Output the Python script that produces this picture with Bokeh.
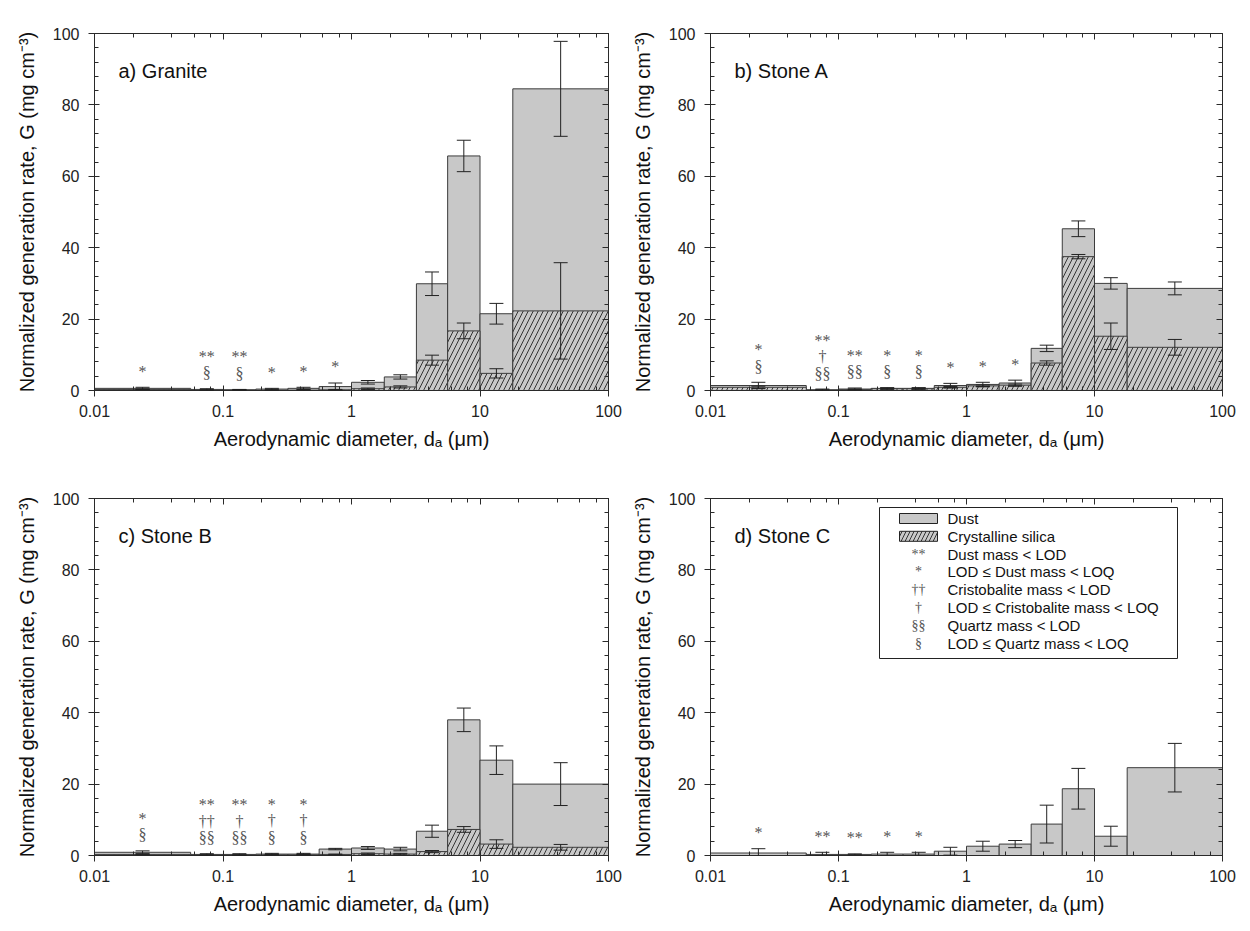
import math
from bokeh.plotting import figure
from bokeh.layouts import column, row
from bokeh.models import (Range1d, LinearAxis, LogAxis, SingleIntervalTicker, LogTicker,
                          CustomJSTickFormatter, ColumnDataSource, Whisker, TeeHead, Label,
                          BoxAnnotation)
from bokeh.core.properties import value
from bokeh.embed import file_html
from bokeh.resources import INLINE

# ---------------- data ----------------
bin_edges = [0.01, 0.056, 0.1, 0.18, 0.32, 0.56, 1.0, 1.8, 3.2, 5.6, 10.0, 18.0, 100.0]

granite_dust = [0.6, 0.3, 0.2, 0.4, 0.6, 1.1, 2.3, 3.8, 29.9, 65.7, 21.5, 84.5]
granite_dust_err = [0.3, 0.2, 0.1, 0.2, 0.3, 1.0, 0.5, 0.6, 3.3, 4.4, 2.9, 13.3]
granite_silica = [0.3, 0.1, 0.1, 0.1, 0.1, 0.2, 0.5, 1.0, 8.5, 16.7, 4.8, 22.3]
granite_silica_err = [0.1, 0.05, 0.05, 0.05, 0.1, 0.1, 0.2, 0.3, 1.4, 2.2, 1.3, 13.5]
granite_dust_flag = ["*", "**", "**", "*", "*", "*", "", "", "", "", "", ""]
granite_crist_flag = [""] * 12
granite_quartz_flag = ["", "§", "§", "", "", "", "", "", "", "", "", ""]

stoneA_dust = [1.4, 0.2, 0.4, 0.6, 0.6, 1.4, 1.7, 2.1, 11.8, 45.3, 30.0, 28.6]
stoneA_dust_err = [0.9, 0.2, 0.3, 0.2, 0.2, 0.6, 0.6, 0.8, 0.9, 2.2, 1.6, 1.8]
stoneA_silica = [0.9, 0.1, 0.3, 0.5, 0.5, 0.9, 1.3, 1.5, 7.7, 37.5, 15.2, 12.1]
stoneA_silica_err = [0.3, 0.05, 0.1, 0.15, 0.15, 0.2, 0.25, 0.3, 0.6, 0.6, 3.7, 2.2]
stoneA_dust_flag = ["*", "**", "**", "*", "*", "*", "*", "*", "", "", "", ""]
stoneA_crist_flag = ["", "†", "", "", "", "", "", "", "", "", "", ""]
stoneA_quartz_flag = ["§", "§§", "§§", "§", "§", "", "", "", "", "", "", ""]

stoneB_dust = [0.9, 0.3, 0.3, 0.4, 0.4, 1.8, 2.1, 1.8, 6.8, 38.0, 26.7, 20.0]
stoneB_dust_err = [0.4, 0.2, 0.2, 0.2, 0.2, 0.2, 0.4, 0.5, 1.7, 3.3, 4.0, 6.0]
stoneB_silica = [0.3, 0.1, 0.1, 0.2, 0.2, 0.3, 0.5, 0.4, 1.1, 7.3, 3.2, 2.3]
stoneB_silica_err = [0.1, 0.05, 0.05, 0.1, 0.1, 0.1, 0.2, 0.2, 0.3, 0.8, 1.2, 0.8]
stoneB_dust_flag = ["*", "**", "**", "*", "*", "", "", "", "", "", "", ""]
stoneB_crist_flag = ["", "††", "†", "†", "†", "", "", "", "", "", "", ""]
stoneB_quartz_flag = ["§", "§§", "§§", "§", "§", "", "", "", "", "", "", ""]

stoneC_dust = [0.7, 0.3, 0.3, 0.4, 0.4, 1.2, 2.6, 3.2, 8.8, 18.7, 5.4, 24.6]
stoneC_dust_err = [1.2, 0.6, 0.15, 0.5, 0.5, 1.1, 1.4, 1.0, 5.3, 5.7, 2.8, 6.8]
stoneC_dust_flag = ["*", "**", "**", "*", "*", "", "", "", "", "", "", ""]

panel_titles = ["a) Granite", "b) Stone A", "c) Stone B", "d) Stone C"]

legend_labels = ["Dust", "Crystalline silica", "Dust mass < LOD", "LOD ≤ Dust mass < LOQ",
                 "Cristobalite mass < LOD", "LOD ≤ Cristobalite mass < LOQ",
                 "Quartz mass < LOD", "LOD ≤ Quartz mass < LOQ"]
legend_symbols = ["", "", "**", "*", "††", "†", "§§", "§"]

x_label = "Aerodynamic diameter, dₐ (μm)"
y_label = "Normalized generation rate, G (mg cm⁻³)"

# ---------------- style ----------------
FONT = "Liberation Sans"
SYM_FONT = "Liberation Serif"
AX = "#2a2a2a"
BAR_FILL = "#c8c8c8"
BAR_LINE = "#3c3c3c"
SYM_COLOR = "#555555"
FRAME_W = 514
FRAME_H = 357

lefts = bin_edges[:-1]
rights = bin_edges[1:]
mids = [math.sqrt(a * b) for a, b in zip(lefts, rights)]


def make_panel(width, height, bl, br, bt, bb):
    p = figure(width=width, height=height, x_axis_type="log",
               x_range=Range1d(0.01, 100), y_range=Range1d(0, 100),
               output_backend="svg", toolbar_location=None,
               min_border_left=bl, min_border_right=br,
               min_border_top=bt, min_border_bottom=bb,
               x_axis_label=x_label, y_axis_label=y_label)
    p.grid.visible = False
    p.outline_line_color = None
    p.background_fill_color = "white"
    p.border_fill_color = "white"
    bottom_ax = p.below[0]
    left_ax = p.left[0]
    xt = LogTicker()
    yt = SingleIntervalTicker(interval=20, num_minor_ticks=5)
    bottom_ax.ticker = xt
    left_ax.ticker = yt
    bottom_ax.formatter = CustomJSTickFormatter(
        code="return parseFloat(tick.toPrecision(6)).toString();")
    for ax in [bottom_ax, left_ax]:
        ax.axis_line_color = AX
        ax.major_tick_line_color = AX
        ax.minor_tick_line_color = AX
        ax.major_tick_in = 5
        ax.major_tick_out = 6
        ax.minor_tick_in = 4
        ax.minor_tick_out = 0
        ax.major_label_text_font = FONT
        ax.major_label_text_font_size = "16px"
        ax.major_label_text_color = "#222222"
        ax.axis_label_text_font = FONT
        ax.axis_label_text_font_size = "20px"
        ax.axis_label_text_font_style = "normal"
        ax.axis_label_text_color = "#111111"
    bottom_ax.major_label_standoff = 8
    bottom_ax.axis_label_standoff = 8
    left_ax.major_label_standoff = 9
    left_ax.axis_label_standoff = 12
    top = LogAxis(ticker=xt, formatter=CustomJSTickFormatter(code="return '';"))
    right = LinearAxis(ticker=yt, formatter=CustomJSTickFormatter(code="return '';"))
    for ax in [top, right]:
        ax.axis_line_color = AX
        ax.major_tick_line_color = AX
        ax.minor_tick_line_color = AX
        ax.major_tick_in = 6
        ax.major_tick_out = 0
        ax.minor_tick_in = 4
        ax.minor_tick_out = 0
        ax.major_label_standoff = 0
        ax.major_label_text_font_size = "1px"
    p.add_layout(top, "above")
    p.add_layout(right, "right")
    return p


def add_bars(p, dust, dust_err, silica=None, silica_err=None):
    p.quad(left=lefts, right=rights, bottom=0, top=dust,
           fill_color=BAR_FILL, line_color=BAR_LINE, line_width=1)
    if silica is not None:
        p.quad(left=lefts, right=rights, bottom=0, top=silica,
               fill_color=BAR_FILL, line_color=BAR_LINE, line_width=1,
               hatch_pattern="/", hatch_color="#333333", hatch_scale=10, hatch_weight=1)
    series = [(dust, dust_err)]
    if silica is not None:
        series.append((silica, silica_err))
    for vals, errs in series:
        src = ColumnDataSource(dict(
            x=mids,
            up=[v + e for v, e in zip(vals, errs)],
            lo=[max(v - e, 0) for v, e in zip(vals, errs)]))
        w = Whisker(source=src, base="x", upper="up", lower="lo",
                    line_color="#222222", line_width=1, level="overlay",
                    upper_head=TeeHead(size=14, line_color="#222222", line_width=1),
                    lower_head=TeeHead(size=14, line_color="#222222", line_width=1))
        p.add_layout(w)


def add_flags(p, dust, dust_err, flag_lists):
    xs, ys, ts = [], [], []
    for i in range(len(mids)):
        stack = [f[i] for f in flag_lists if f[i]]
        base = dust[i] + dust_err[i] + 4.5
        for k, s in enumerate(stack):
            xs.append(mids[i])
            ys.append(base + 4.6 * k)
            ts.append(s)
    src = ColumnDataSource(dict(x=xs, y=ys, text=ts))
    p.text(x="x", y="y", text="text", source=src, text_font=value(SYM_FONT),
           text_font_size="16px", text_color=SYM_COLOR, text_align="center",
           text_baseline="middle")


def add_title(p, t):
    p.add_layout(Label(x=24, y=FRAME_H - 37, x_units="screen", y_units="screen", text=t,
                       text_font=FONT, text_font_size="20px", text_color="#111111",
                       text_baseline="middle", text_align="left"))


pa = make_panel(628, 465, 94, 20, 33, 75)
pb = make_panel(614, 465, 80, 20, 33, 75)
pc = make_panel(628, 458, 94, 20, 33, 68)
pd = make_panel(614, 458, 80, 20, 33, 68)

add_bars(pa, granite_dust, granite_dust_err, granite_silica, granite_silica_err)
add_flags(pa, granite_dust, granite_dust_err,
          [granite_quartz_flag, granite_crist_flag, granite_dust_flag])
add_bars(pb, stoneA_dust, stoneA_dust_err, stoneA_silica, stoneA_silica_err)
add_flags(pb, stoneA_dust, stoneA_dust_err,
          [stoneA_quartz_flag, stoneA_crist_flag, stoneA_dust_flag])
add_bars(pc, stoneB_dust, stoneB_dust_err, stoneB_silica, stoneB_silica_err)
add_flags(pc, stoneB_dust, stoneB_dust_err,
          [stoneB_quartz_flag, stoneB_crist_flag, stoneB_dust_flag])
add_bars(pd, stoneC_dust, stoneC_dust_err)
add_flags(pd, stoneC_dust, stoneC_dust_err, [stoneC_dust_flag])

for p, t in zip([pa, pb, pc, pd], panel_titles):
    add_title(p, t)

# ---------------- legend (panel d) ----------------
LEG_L, LEG_R, LEG_T, LEG_B = 169, 467, 348, 197
pd.add_layout(BoxAnnotation(left=LEG_L, right=LEG_R, top=LEG_T, bottom=LEG_B,
                            left_units="screen", right_units="screen",
                            top_units="screen", bottom_units="screen",
                            fill_color="white", fill_alpha=1.0, line_color="#222222",
                            line_alpha=1.0, line_width=1, line_dash="solid", level="overlay"))
row0 = LEG_T - 11
pitch = 17.8
sw_l, sw_r = 189, 227
pd.add_layout(BoxAnnotation(left=sw_l, right=sw_r, top=row0 + 5, bottom=row0 - 5,
                            left_units="screen", right_units="screen",
                            top_units="screen", bottom_units="screen",
                            fill_color=BAR_FILL, fill_alpha=1.0, line_color="#222222",
                            line_alpha=1.0, line_width=1, line_dash="solid", level="overlay"))
pd.add_layout(BoxAnnotation(left=sw_l, right=sw_r, top=row0 - pitch + 5, bottom=row0 - pitch - 5,
                            left_units="screen", right_units="screen",
                            top_units="screen", bottom_units="screen",
                            fill_color=BAR_FILL, fill_alpha=1.0, line_color="#222222",
                            line_alpha=1.0, line_width=1, line_dash="solid",
                            hatch_pattern="/", hatch_color="#333333", hatch_scale=8,
                            hatch_weight=1, level="overlay"))
for k, (lab, sym) in enumerate(zip(legend_labels, legend_symbols)):
    yk = row0 - pitch * k
    pd.add_layout(Label(x=237, y=yk, x_units="screen", y_units="screen", text=lab,
                        text_font=FONT, text_font_size="15px", text_color="#111111",
                        text_baseline="middle", text_align="left", level="overlay"))
    if sym:
        pd.add_layout(Label(x=(sw_l + sw_r) / 2, y=yk, x_units="screen", y_units="screen",
                            text=sym, text_font=SYM_FONT, text_font_size="14px",
                            text_color=SYM_COLOR, text_baseline="middle", text_align="center",
                            level="overlay"))

layout = column(row(pa, pb), row(pc, pd))
open("out.html", "w").write(file_html(layout, INLINE))
